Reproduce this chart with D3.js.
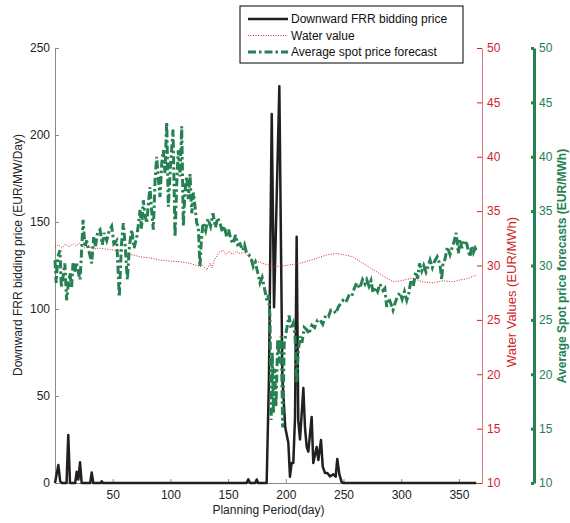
<!DOCTYPE html>
<html>
<head>
<meta charset="utf-8">
<script src="https://cdn.jsdelivr.net/npm/d3@7"></script>
<style>
  body { margin: 0; background: #fff; }
  svg text { font-family: "Liberation Sans", Arial, sans-serif; }
</style>
</head>
<body>
<div id="chart"></div>
<script>
// Downward FRR bidding price (EUR/MW/Day), left axis
const frrDays = [0, 1, 2.9, 4.5, 5.8, 10, 11.5, 13, 17.5, 18.8, 20.2, 21.7, 23.1, 30.5, 31.8, 33.2, 39.5, 40.5, 41.5,
  166, 167.5, 169, 173.5, 174.8, 176, 183.4, 185.4, 187.8, 189.8, 194.4, 197, 197.8, 199.5, 202.2, 203.6, 205,
  206.5, 208, 209.4, 210.8, 212.3, 215.2, 216.6, 218.1, 219.5, 222.4, 223.8, 226.7, 228.2, 230.5, 232, 234, 236,
  238.3, 241.2, 243.2, 244.6, 246.4, 248.4, 250, 365];
const frrValues = [0, 3.6, 10.3, 1, 0, 0, 27.6, 0, 0, 6.5, 2, 11.9, 0, 0, 6.1, 0, 0, 1, 0,
  0, 2.1, 0, 0, 2, 0, 0, 60, 212, 101, 228, 60, 52, 32, 23, 3.6, 11.5,
  11.5, 38, 141.5, 36, 25, 54.6, 32, 20.7, 18, 38, 11.5, 20.7, 13.2, 24.7, 9.4, 5.7, 5.7,
  3.8, 5, 3.6, 13.8, 5, 0.5, 0, 0];

// Water value (EUR/MWh), first right axis
const waterDays = [0, 3, 6, 9, 12, 15.6, 18, 21.7, 25, 29, 33, 38, 45, 52, 59, 66, 73.7, 82, 91, 100, 108, 117,
  125.6, 128, 131.5, 133, 134.3, 136, 138, 140, 142, 145.6, 148, 151, 154, 157, 160.3, 164, 168, 171.6, 180,
  189, 200, 212.3, 225, 236, 244, 250, 258, 270, 282, 293, 300, 310, 318, 327.6, 336, 345, 352, 358, 362, 365];
const waterValues = [31.7, 31.9, 31.6, 32.0, 31.7, 32.0, 31.8, 32.1, 31.6, 31.8, 31.5, 31.6, 31.5, 31.4, 31.3,
  31.0, 30.8, 30.7, 30.5, 30.4, 30.35, 30.2, 29.9, 30.0, 29.6, 29.9, 30.2, 29.8, 30.5, 30.8, 31.2, 31.4, 31.0,
  31.3, 31.0, 31.3, 31.1, 31.2, 30.8, 30.5, 30.2, 29.9, 30.0, 30.2, 30.6, 31.0, 31.1, 31.0, 30.8, 30.0, 29.2,
  28.5, 28.6, 28.85, 28.5, 28.4, 28.6, 28.5, 28.7, 28.8, 29.0, 29.1];

// Average spot price forecast (EUR/MWh), second right axis
const spotDays = [0, 1, 2.5, 4.3, 5.5, 6.9, 8.5, 10.1, 11.5, 13, 14.3, 15.6, 17, 18.5, 20, 21.7, 23, 24.3, 26,
  27.5, 29.5, 31.8, 33.5, 35, 37, 39, 41, 42.5, 44.8, 47, 49.1, 51, 53.5, 55.7, 57.5, 59.2, 61, 62.7, 64.5, 66.5,
  68.5, 70.8, 72.3, 73.7, 75, 76.5, 78, 79.5, 81, 82.3, 83.8, 85.2, 86.7, 88.1, 89.5, 91, 92.5, 93.9, 95.3, 96.8,
  98.2, 100.2, 102.3, 104, 105.5, 106.8, 108.3, 109.8, 111.2, 112.6, 114.1, 115.5, 117, 118.5, 120, 121.3, 122.8,
  124.2, 125.6, 126.9, 128.2, 130.5, 132.5, 134.8, 136.9, 139, 141, 143, 145, 146.8, 148.8, 150.5, 152.3, 154.2,
  156.5, 158.3, 160.3, 162.5, 164.2, 166.1, 168, 170, 171.8, 173.6, 175.5, 177.6, 179.5, 181.5, 183.5, 185,
  186.3, 187.3, 188.3, 189.3, 190.3, 191.5, 193, 194.5, 196, 197.3, 198.6, 200.2, 201.5, 202.8, 204.5, 206.5,
  208, 209.4, 210.8, 212.3, 214, 216, 218.1, 220, 222.5, 225, 227.5, 229.6, 232, 234.5, 237, 239, 241.2, 243.5,
  245.5, 247.5, 249.6, 252, 254.5, 257, 259, 261.4, 264, 266.5, 268.5, 270.1, 272, 273.8, 275.6, 277.5, 279.5,
  281.5, 284.2, 285.8, 287.4, 289.2, 291, 292.9, 294.8, 297, 299, 300.8, 302.8, 304.8, 306.5, 308.5, 310.5, 312.5,
  314.3, 315.8, 317.8, 319.5, 321.5, 323.2, 325, 327, 329, 331.2, 333.6, 335, 336.2, 338, 340, 342.3, 344, 345.8,
  347.6, 349.5, 351, 352.5, 354.5, 356.8, 358.2, 359.6, 361, 362.5, 364, 365];
const spotValues = [30.5, 28.4, 30.8, 31.4, 28.0, 28.9, 30.2, 26.8, 28.2, 29.3, 27.9, 30.2, 29.4, 30.3, 29.5, 28.7,
  31.2, 34.2, 31.7, 32.3, 31.3, 30.2, 32.6, 31.7, 33.1, 33.3, 31.9, 33.0, 32.3, 33.2, 33.6, 32.0, 32.3, 27.1, 31.8,
  33.9, 31.5, 28.7, 31.8, 33.3, 31.6, 32.6, 33.8, 35.1, 33.4, 36.0, 34.6, 33.9, 35.8, 37.2, 35.0, 33.3, 37.8, 40.0,
  38.0, 36.3, 39.4, 40.6, 38.5, 43.2, 35.4, 39.4, 42.5, 32.6, 37.5, 40.6, 38.2, 42.8, 33.6, 36.8, 38.2, 36.1, 38.4,
  34.8, 36.7, 35.4, 33.9, 33.6, 29.9, 32.4, 33.9, 33.2, 34.3, 33.6, 34.8, 33.5, 34.4, 33.9, 33.1, 33.6, 32.6, 33.3,
  32.4, 32.0, 32.8, 31.9, 32.0, 31.4, 31.9, 31.1, 31.0, 30.6, 29.9, 30.3, 29.4, 28.4, 28.9, 27.9, 26.8, 27.3, 25.3,
  15.8, 22.0, 16.4, 20.5, 17.0, 23.2, 21.0, 23.5, 15.1, 22.8, 23.8, 24.6, 25.4, 24.2, 24.7, 23.6, 19.2, 22.1, 23.5,
  22.9, 24.3, 24.1, 23.7, 24.5, 24.3, 25.0, 25.0, 24.6, 25.4, 25.3, 25.9, 25.9, 25.6, 26.2, 26.5, 26.8, 26.6, 27.2,
  27.1, 27.8, 28.4, 27.9, 28.7, 28.3, 28.7, 28.1, 28.6, 27.5, 28.0, 27.6, 28.3, 27.7, 27.9, 26.2, 27.0, 26.5, 25.9,
  26.6, 27.2, 27.5, 26.9, 27.6, 26.8, 27.4, 28.7, 28.1, 29.4, 28.8, 30.2, 29.5, 30.0, 29.4, 29.9, 30.5, 29.8, 30.4,
  30.8, 30.1, 28.7, 30.2, 30.6, 31.7, 31.0, 31.6, 32.2, 33.0, 31.1, 32.4, 31.6, 32.3, 32.0, 31.3, 30.8, 31.8, 31.2,
  31.6, 31.4];

const xTicks = [50, 100, 150, 200, 250, 300, 350];
const frrTicks = [0, 50, 100, 150, 200, 250];
const rightTicks = [10, 15, 20, 25, 30, 35, 40, 45, 50];
const legendLabels = ["Downward FRR bidding price", "Water value", "Average spot price forecast"];

const width = 570, height = 523;
const plotLeft = 55, plotRight = 482, plotTop = 48, plotBottom = 483;
const greenAxisX = 534;

const black = "#231f20", red = "#d2232a", redAxis = "#d97a7f", green = "#268052";

const svg = d3.select("#chart").append("svg")
    .attr("width", width)
    .attr("height", height);

const x = d3.scaleLinear().domain([0, 370]).range([plotLeft, plotRight]);
const yFrr = d3.scaleLinear().domain([0, 250]).range([plotBottom, plotTop]);
const yWater = d3.scaleLinear().domain([10, 50]).range([plotBottom, plotTop]);
const ySpot = d3.scaleLinear().domain([10, 50]).range([plotBottom, plotTop]);

function styleAxis(g, lineColor, textColor, lineWidth) {
    g.selectAll(".domain").attr("stroke", lineColor).attr("stroke-width", lineWidth);
    g.selectAll(".tick line").attr("stroke", lineColor).attr("stroke-width", lineWidth);
    g.selectAll(".tick text").attr("fill", textColor).style("font-size", "12px");
}

// bottom axis
svg.append("g")
    .attr("transform", "translate(0," + plotBottom + ")")
    .call(d3.axisBottom(x).tickValues(xTicks).tickSizeInner(-4).tickSizeOuter(0).tickPadding(5))
    .call(styleAxis, "#8a8a8a", "#222", 1)
    .call(g => g.selectAll(".tick text").attr("dy", "0.9em"));

// left axis
svg.append("g")
    .attr("transform", "translate(" + plotLeft + ",0)")
    .call(d3.axisLeft(yFrr).tickValues(frrTicks).tickSizeInner(-4).tickSizeOuter(0).tickPadding(5))
    .call(styleAxis, "#8a8a8a", "#222", 1);

// water value axis
svg.append("g")
    .attr("transform", "translate(" + plotRight + ",0)")
    .call(d3.axisRight(yWater).tickValues(rightTicks).tickSizeInner(-5).tickSizeOuter(0).tickPadding(5))
    .call(styleAxis, redAxis, red, 1)
    .call(g => g.selectAll(".tick line").attr("stroke", red));

// spot price axis
svg.append("g")
    .attr("transform", "translate(" + greenAxisX + ",0)")
    .call(d3.axisRight(ySpot).tickValues(rightTicks).tickSizeInner(-3).tickSizeOuter(0).tickPadding(5))
    .call(styleAxis, green, green, 3);

// series
const frrLine = d3.line().x((d, i) => x(frrDays[i])).y(d => yFrr(d));
const waterLine = d3.line().x((d, i) => x(waterDays[i])).y(d => yWater(d));
const spotLine = d3.line().x((d, i) => x(spotDays[i])).y(d => ySpot(d));

svg.append("path")
    .attr("d", frrLine(frrValues))
    .attr("fill", "none")
    .attr("stroke", black)
    .attr("stroke-width", 2.5)
    .attr("stroke-linejoin", "round");

svg.append("path")
    .attr("d", waterLine(waterValues))
    .attr("fill", "none")
    .attr("stroke", red)
    .attr("stroke-width", 1)
    .attr("stroke-dasharray", "1,1.5");

svg.append("path")
    .attr("d", spotLine(spotValues))
    .attr("fill", "none")
    .attr("stroke", green)
    .attr("stroke-width", 3)
    .attr("stroke-dasharray", "8,3,2.5,3");

// axis titles
svg.append("text")
    .attr("transform", "translate(22," + 255 + ") rotate(-90)")
    .attr("text-anchor", "middle")
    .style("font-size", "12px")
    .attr("fill", "#222")
    .text("Downward FRR bidding price (EUR/MW/Day)");

svg.append("text")
    .attr("x", (plotLeft + plotRight) / 2)
    .attr("y", 514)
    .attr("text-anchor", "middle")
    .style("font-size", "12px")
    .attr("fill", "#222")
    .text("Planning Period(day)");

svg.append("text")
    .attr("transform", "translate(516," + 292 + ") rotate(-90)")
    .attr("text-anchor", "middle")
    .style("font-size", "13px")
    .attr("fill", red)
    .text("Water Values (EUR/MWh)");

svg.append("text")
    .attr("transform", "translate(566," + 266 + ") rotate(-90)")
    .attr("text-anchor", "middle")
    .style("font-size", "12px")
    .style("font-weight", "bold")
    .attr("fill", green)
    .text("Average Spot price forecasts (EUR/MWh)");

// legend
const legend = svg.append("g").attr("transform", "translate(240,6)");
legend.append("rect")
    .attr("width", 223).attr("height", 57)
    .attr("fill", "#fff").attr("stroke", "#000").attr("stroke-width", 1);

const legendStyles = [
    { stroke: black, width: 2.5, dash: null },
    { stroke: red, width: 1, dash: "1,1.5" },
    { stroke: green, width: 3, dash: "8,3,2.5,3" }
];

legendLabels.forEach(function (label, i) {
    let row = legend.append("g").attr("transform", "translate(0," + (13 + i * 16.5) + ")");
    row.append("line")
        .attr("x1", 8).attr("x2", 48)
        .attr("stroke", legendStyles[i].stroke)
        .attr("stroke-width", legendStyles[i].width)
        .attr("stroke-dasharray", legendStyles[i].dash);
    row.append("text")
        .attr("x", 51).attr("dy", "0.35em")
        .style("font-size", "12px")
        .attr("fill", "#111")
        .text(label);
});
</script>
</body>
</html>
